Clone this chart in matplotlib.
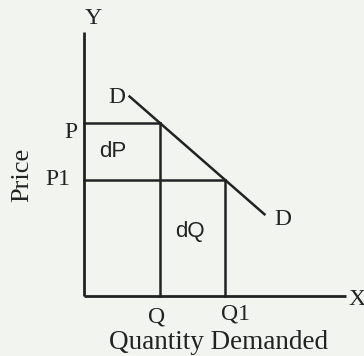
import matplotlib.pyplot as plt

# quantities and prices on the demand curve
quantities = [4.0, 7.4]      # Q, Q1
prices = [9.1, 6.1]          # P, P1
demand_q = [2.4, 9.5]        # ends of the D line
demand_p = [10.5, 4.3]
q_labels = ["Q", "Q1"]
p_labels = ["P", "P1"]
x_max, y_max = 13.8, 13.9

ink = "#222222"
paper = "#f2f4ef"
serif = "Liberation Serif"
sans = "Liberation Sans"

fig = plt.figure(figsize=(3.64, 3.56), dpi=100, facecolor=paper)
ax = fig.add_axes([0, 0, 1, 1])
ax.set_facecolor(paper)
ax.set_xlim(-4.42, 14.74)
ax.set_ylim(-3.16, 15.58)
ax.axis("off")

# axes
ax.plot([0, 0], [0, y_max], color=ink, lw=2.0, solid_capstyle="butt")
ax.plot([0, x_max], [0, 0], color=ink, lw=2.0, solid_capstyle="butt")

# price lines and quantity drops
(q, q1), (p, p1) = quantities, prices
ax.plot([0, q], [p, p], color=ink, lw=1.8)
ax.plot([q, q], [0, p], color=ink, lw=1.8)
ax.plot([0, q1], [p1, p1], color=ink, lw=1.8)
ax.plot([q1, q1], [0, p1], color=ink, lw=1.8)

# demand curve
ax.plot(demand_q, demand_p, color=ink, lw=1.8)

fs = 17
ax.text(0.47, 14.6, "Y", family=serif, fontsize=fs, color=ink, ha="center", va="center")
ax.text(14.37, -0.2, "X", family=serif, fontsize=fs, color=ink, ha="center", va="center")
ax.text(-0.35, p - 0.5, p_labels[0], family=serif, fontsize=fs, color=ink, ha="right", va="center")
ax.text(-0.7, p1 + 0.05, p_labels[1], family=serif, fontsize=fs, color=ink, ha="right", va="center")
ax.text(q - 0.2, -1.1, q_labels[0], family=serif, fontsize=fs, color=ink, ha="center", va="center")
ax.text(q1 + 0.55, -0.95, q_labels[1], family=serif, fontsize=fs, color=ink, ha="center", va="center")
ax.text(1.74, 10.47, "D", family=serif, fontsize=fs, color=ink, ha="center", va="center")
ax.text(10.47, 4.0, "D", family=serif, fontsize=fs, color=ink, ha="center", va="center")
ax.text(1.53, 7.58, "dP", family=sans, fontsize=16, color=ink, ha="center", va="center")
ax.text(5.58, 3.37, "dQ", family=sans, fontsize=16, color=ink, ha="center", va="center")
ax.text(-3.26, 6.37, "Price", family=serif, fontsize=19, color=ink, ha="center", va="center", rotation=90)
ax.text(7.1, -2.45, "Quantity Demanded", family=serif, fontsize=19.5, color=ink, ha="center", va="center")

fig.savefig("out.png", dpi=100, facecolor=paper)
